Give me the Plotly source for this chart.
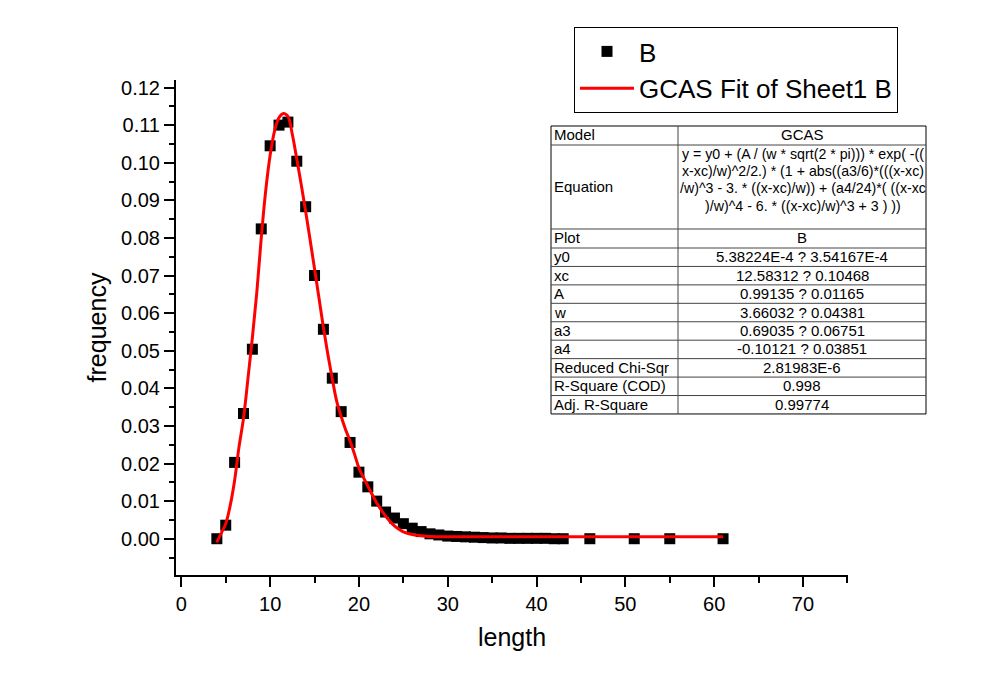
import plotly.graph_objects as go

# measured points (sheet1 column B)
length = [4, 5, 6, 7, 8, 9, 10, 11, 12, 13, 14, 15, 16, 17, 18, 19, 20, 21, 22, 23,
          24, 25, 26, 27, 28, 29, 30, 31, 32, 33, 34, 35, 36, 37, 38, 39, 40, 41, 42, 43,
          46, 51, 55, 61]
frequency = [0.0000, 0.0036, 0.0203, 0.0333, 0.0504, 0.0824, 0.1045, 0.1100, 0.1108, 0.1004,
             0.0883, 0.0700, 0.0557, 0.0427, 0.0338, 0.0256, 0.0177, 0.0138, 0.0100, 0.0071,
             0.0055, 0.0040, 0.0028, 0.0019, 0.0013, 0.0010, 0.0007, 0.0006, 0.0005, 0.0004,
             0.0003, 0.0002, 0.0002, 0.0001, 0.0001, 0.0001, 0.0001, 0.0001, 0.0000, 0.0000,
             0.0000, 0.0000, 0.0000, 0.0000]

# fitted curve
fit_x = [3.97, 4.5, 5.0, 5.5, 6.0, 6.5, 7.0, 7.5, 8.0, 8.5, 9.0, 9.5, 10.0, 10.5, 11.0,
         11.5, 12.0, 12.5, 13.0, 13.5, 14.0, 14.5, 15.0, 15.5, 16.0, 16.5, 17.0, 17.5,
         18.0, 18.5, 19.0, 19.5, 20.0, 20.5, 21.0, 21.5, 22.0, 22.5, 23.0, 23.5, 24.0,
         24.5, 25.0, 26.0, 27.0, 28.0, 30.0, 35.0, 40.0, 50.0, 61.0]
fit_y = [-0.0010, 0.0015, 0.0040, 0.0088, 0.0155, 0.0245, 0.0320, 0.0425, 0.0535, 0.0655,
         0.0800, 0.0925, 0.1020, 0.1085, 0.1120, 0.1131, 0.1123, 0.1075, 0.1010, 0.0942,
         0.0870, 0.0795, 0.0718, 0.0640, 0.0562, 0.0490, 0.0425, 0.0365, 0.0325, 0.0290,
         0.0260, 0.0225, 0.0188, 0.0163, 0.0140, 0.0117, 0.0095, 0.0077, 0.0060, 0.0046,
         0.0034, 0.0025, 0.0018, 0.0011, 0.0008, 0.0006, 0.0005, 0.0005, 0.0005, 0.0005,
         0.0005]

# fit report table
table_labels = ["Model", "Equation", "Plot", "y0", "xc", "A", "w", "a3", "a4",
                "Reduced Chi-Sqr", "R-Square (COD)", "Adj. R-Square"]
table_values = ["GCAS", None, "B", "5.38224E-4 ? 3.54167E-4", "12.58312 ? 0.10468",
                "0.99135 ? 0.01165", "3.66032 ? 0.04381", "0.69035 ? 0.06751",
                "-0.10121 ? 0.03851", "2.81983E-6", "0.998", "0.99774"]
equation_lines = ["y = y0 + (A / (w * sqrt(2 * pi))) * exp( -((",
                  "x-xc)/w)^2/2.) * (1 + abs((a3/6)*(((x-xc)",
                  "/w)^3 - 3. * ((x-xc)/w)) + (a4/24)*( ((x-xc",
                  ")/w)^4 - 6. * ((x-xc)/w)^3 + 3 ) ))"]

W, H = 986, 690
OFF = 8  # page body margin around the plot div
FONT = "Liberation Sans, Arial, sans-serif"


def px(x):
    return (x - OFF) / W


def py(y):
    return 1 - (y - OFF) / H


fig = go.Figure()

fig.add_trace(go.Scatter(
    x=length, y=frequency, mode="markers", name="B",
    marker=dict(symbol="square", size=11, color="black", line=dict(width=0)),
))
fig.add_trace(go.Scatter(
    x=fit_x, y=fit_y, mode="lines", name="GCAS Fit of Sheet1 B",
    line=dict(color="#ff0000", width=3, shape="spline"),
))

# --- table drawn with shapes + annotations
tab_l, tab_r, tab_mid, tab_top = 551, 926, 678, 126
row_h = [19, 84, 19] + [18.44] * 9
tfont = dict(family=FONT, size=15, color="black")
efont = dict(family=FONT, size=14.2, color="black")

shapes = []
annotations = []
edges = [tab_top]
for h in row_h:
    edges.append(edges[-1] + h)

shapes.append(dict(type="rect", xref="paper", yref="paper",
                   x0=px(tab_l), x1=px(tab_r), y0=py(edges[-1]), y1=py(tab_top),
                   line=dict(color="black", width=1), fillcolor="white", layer="above"))
shapes.append(dict(type="line", xref="paper", yref="paper",
                   x0=px(tab_mid), x1=px(tab_mid), y0=py(edges[-1]), y1=py(tab_top),
                   line=dict(color="#444444", width=1), layer="above"))
for e in edges[1:-1]:
    shapes.append(dict(type="line", xref="paper", yref="paper",
                       x0=px(tab_l), x1=px(tab_r), y0=py(e), y1=py(e),
                       line=dict(color="#444444", width=1), layer="above"))

for i, (lab, val) in enumerate(zip(table_labels, table_values)):
    top, bot = edges[i], edges[i + 1]
    yc = (top + bot) / 2 - 0.5
    annotations.append(dict(text=lab, xref="paper", yref="paper", x=px(tab_l + 1), y=py(yc),
                            xanchor="left", yanchor="middle", showarrow=False, font=tfont))
    if val is None:
        for k, line in enumerate(equation_lines):
            annotations.append(dict(text=line, xref="paper", yref="paper",
                                    x=px((tab_mid + tab_r) / 2 + 1), y=py(top + 8.5 + 17.4 * k),
                                    xanchor="center", yanchor="middle", showarrow=False,
                                    font=efont))
    else:
        annotations.append(dict(text=val, xref="paper", yref="paper",
                                x=px((tab_mid + tab_r) / 2), y=py(yc),
                                xanchor="center", yanchor="middle", showarrow=False,
                                font=tfont))

axis_common = dict(
    showline=True, linecolor="black", linewidth=2, mirror=False,
    ticks="outside", ticklen=10, tickwidth=2, tickcolor="black",
    showgrid=False, zeroline=False,
    tickfont=dict(family=FONT, size=20, color="black"),
)

fig.update_xaxes(
    **axis_common, range=[-0.6, 75.07], dtick=10, tick0=0,
    domain=[px(176), px(848)],
    minor=dict(dtick=5, ticks="outside", ticklen=6, tickwidth=2, tickcolor="black"),
    title=dict(text="length", font=dict(family=FONT, size=25, color="black"), standoff=14),
)
fig.update_yaxes(
    **axis_common, range=[-0.00965, 0.122], dtick=0.01, tick0=0, tickformat=".2f",
    domain=[py(575), py(80)],
    minor=dict(dtick=0.005, ticks="outside", ticklen=5, tickwidth=2, tickcolor="black"),
    title=dict(text="frequency", font=dict(family=FONT, size=25, color="black"), standoff=7),
)

fig.update_layout(
    width=W, height=H,
    margin=dict(l=0, r=0, t=0, b=0, autoexpand=False),
    paper_bgcolor="white", plot_bgcolor="white",
    font=dict(family=FONT, color="black"),
    shapes=shapes, annotations=annotations,
    legend=dict(
        x=px(574), y=py(27), xanchor="left", yanchor="top",
        bordercolor="black", borderwidth=1, bgcolor="white",
        font=dict(family=FONT, size=26, color="black"),
        itemwidth=54, tracegroupgap=0,
    ),
)

fig.write_html("out.html")
